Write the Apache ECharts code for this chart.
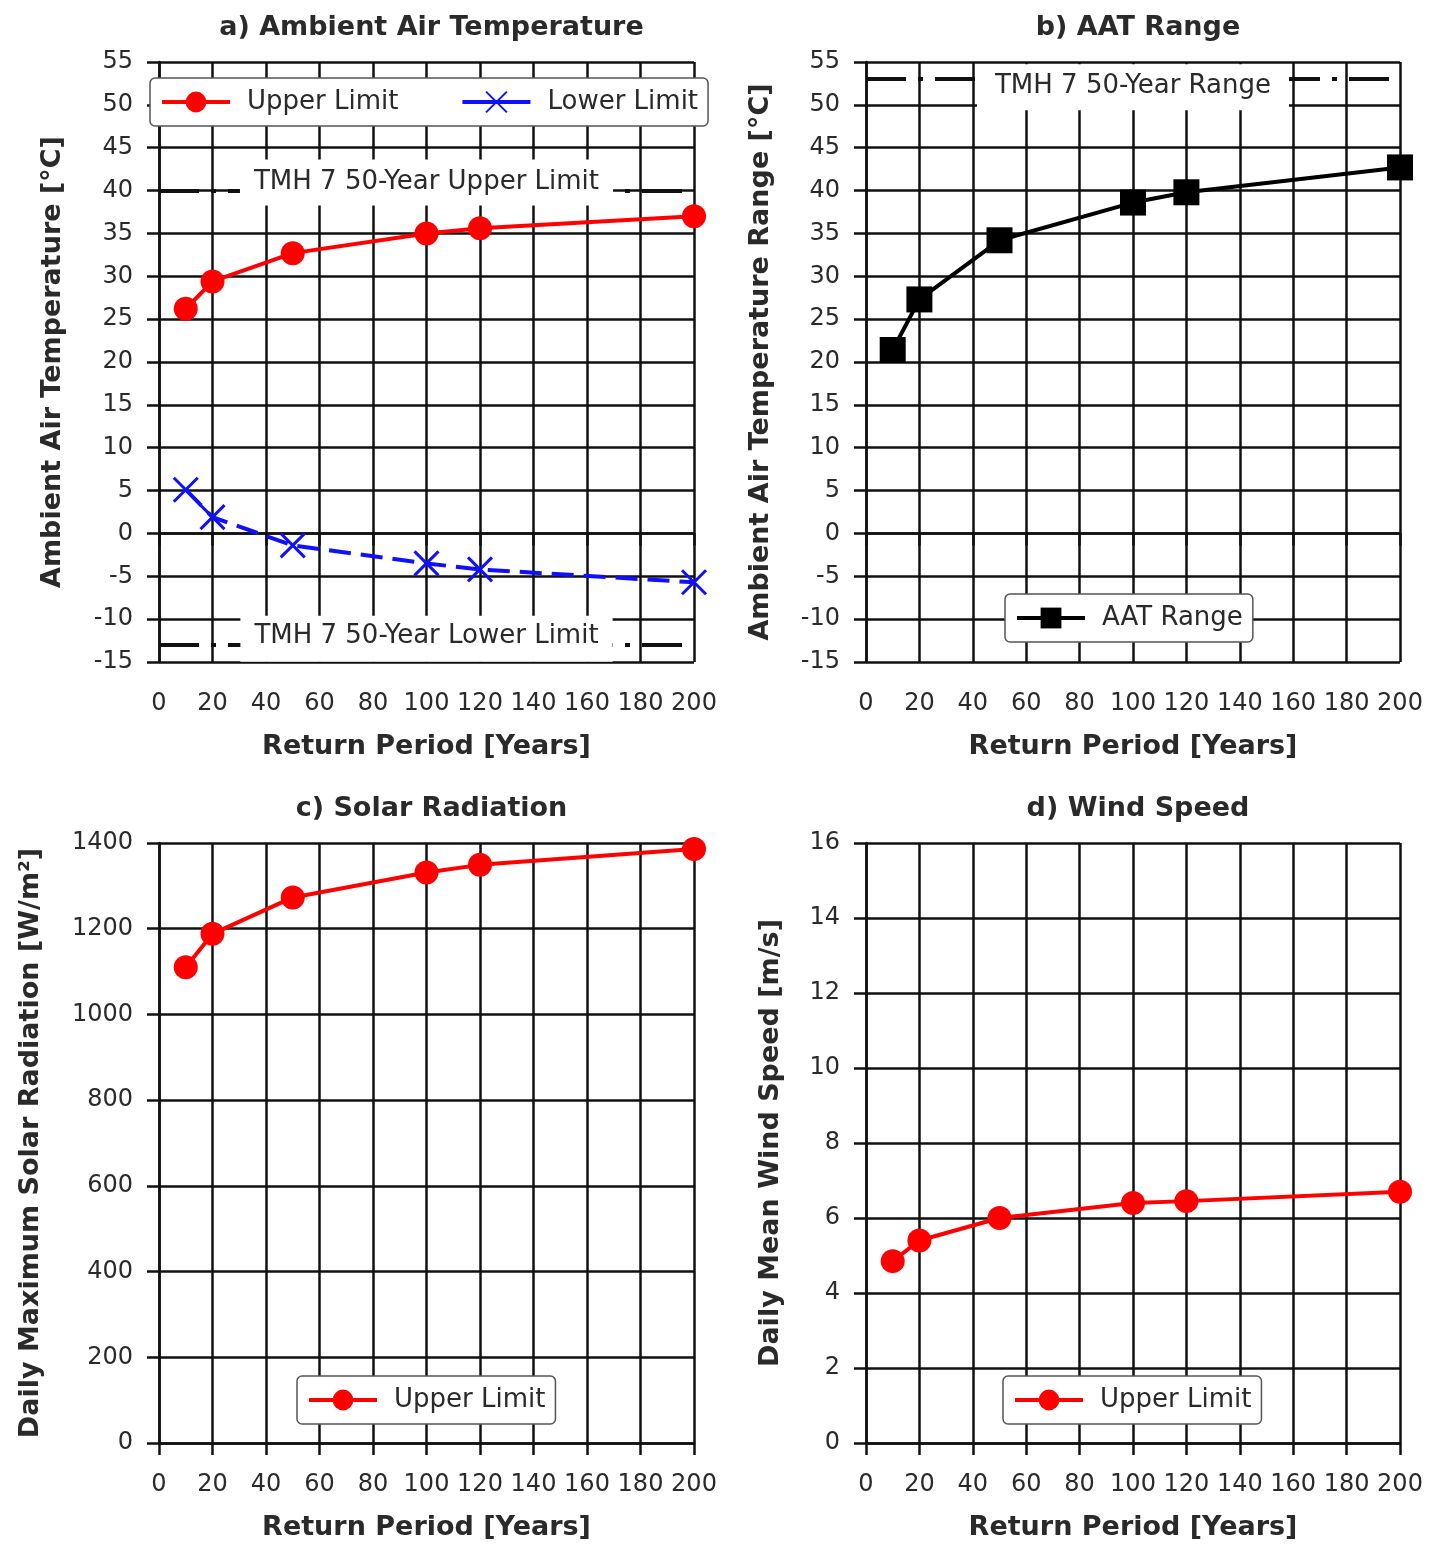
<!DOCTYPE html>
<html>
<head>
<meta charset="utf-8">
<script src="https://cdn.jsdelivr.net/npm/echarts@6/dist/echarts.min.js"></script>
<style>
  html, body { margin: 0; padding: 0; background: #fff; }
  #chart { width: 1442px; height: 1549px; }
</style>
</head>
<body>
<div id="chart"></div>
<script>
// return periods (years)
const returnPeriods = [10, 20, 50, 100, 120, 200]

// a) ambient air temperature [°C]
const aatUpper = [26.2, 29.4, 32.7, 35.0, 35.6, 37.0]
const aatLower = [5.1, 1.9, -1.4, -3.5, -4.2, -5.7]
const tmhUpper = 40
const tmhLower = -13

// b) AAT range [°C]
const aatRange = [21.4, 27.3, 34.2, 38.6, 39.8, 42.7]
const tmhRange = 53

// c) solar radiation [W/m2]
const solarUpper = [1110, 1188, 1273, 1331, 1349, 1386]

// d) wind speed [m/s]
const windUpper = [4.85, 5.4, 6.0, 6.4, 6.45, 6.7]

const titles = ["a) Ambient Air Temperature", "b) AAT Range", "c) Solar Radiation", "d) Wind Speed"]
const yNames = [
	"Ambient Air Temperature [°C]",
	"Ambient Air Temperature Range [°C]",
	"Daily Maximum Solar Radiation [W/m²]",
	"Daily Mean Wind Speed [m/s]",
]

const FONT = "DejaVu Sans, Verdana, sans-serif"
const RED = "#ff0000"
const BLUE = "#1010ff"
const INK = "#111"
const TEXT = "#2a2a2a"
const crossPath = "path://M0,0L20,20M20,0L0,20"
const dashDot = [40, 12, 5, 12]

const grids = [
	{ left: 159, top: 62, width: 535, height: 600 },
	{ left: 866, top: 62, width: 534, height: 600 },
	{ left: 159, top: 843, width: 535, height: 600 },
	{ left: 866, top: 843, width: 534, height: 600 },
]

const xAxis = grids.map((g, i) => ({
	type: "value",
	gridIndex: i,
	min: 0,
	max: 200,
	interval: 20,
	name: "Return Period [Years]",
	nameLocation: "middle",
	nameGap: 71,
	nameTextStyle: { fontFamily: FONT, fontSize: 27, fontWeight: "bold", color: TEXT },
	axisLine: { show: true, lineStyle: { color: INK, width: 2.5 } },
	axisTick: { show: true, length: 12, lineStyle: { color: INK, width: 2.5 } },
	axisLabel: { fontFamily: FONT, fontSize: 24, color: TEXT, margin: 30 },
	splitLine: { show: true, lineStyle: { color: INK, width: 2.5 } },
}))

const yRanges = [
	{ min: -15, max: 55, interval: 5, gap: 93 },
	{ min: -15, max: 55, interval: 5, gap: 92 },
	{ min: 0, max: 1400, interval: 200, gap: 115 },
	{ min: 0, max: 16, interval: 2, gap: 82 },
]

const yAxis = yRanges.map((r, i) => ({
	type: "value",
	gridIndex: i,
	min: r.min,
	max: r.max,
	interval: r.interval,
	name: yNames[i],
	nameLocation: "middle",
	nameGap: r.gap,
	nameTextStyle: { fontFamily: FONT, fontSize: 27, fontWeight: "bold", color: TEXT },
	axisLine: { show: true, lineStyle: { color: INK, width: 2.5 } },
	axisTick: { show: true, length: 12, lineStyle: { color: INK, width: 2.5 } },
	axisLabel: { fontFamily: FONT, fontSize: 24, color: TEXT, margin: 26, formatter: (v) => String(v) },
	splitLine: { show: true, lineStyle: { color: INK, width: 2.5 } },
}))

const title = titles.map((t, i) => ({
	text: t,
	left: grids[i].left + grids[i].width / 2,
	top: i < 2 ? 9 : 790,
	textAlign: "center",
	textStyle: { fontFamily: FONT, fontSize: 27, fontWeight: "bold", color: TEXT },
}))

const legendBase = {
	orient: "horizontal",
	backgroundColor: "#fff",
	borderColor: "#555",
	borderWidth: 1.5,
	borderRadius: 5,
	padding: [11, 10, 11, 10],
	itemWidth: 68,
	itemHeight: 26,
	itemGap: 62,
	lineStyle: { width: 4 },
	textStyle: { fontFamily: FONT, fontSize: 26, color: TEXT, padding: [0, 0, 0, 12] },
}

const legend = [
	Object.assign({}, legendBase, {
		left: 150,
		top: 78,
		data: ["Upper Limit", { name: "Lower Limit", lineStyle: { type: "solid", width: 4 } }],
	}),
	Object.assign({}, legendBase, { left: 1005, top: 594, data: ["AAT Range"] }),
	Object.assign({}, legendBase, { left: 297, top: 1376, data: ["Upper Limit"] }),
	Object.assign({}, legendBase, { left: 1003, top: 1376, data: ["Upper Limit"] }),
]

const pairs = (ys) => returnPeriods.map((x, i) => [x, ys[i]])

const tmhLine = (value, text, pad, offset) => ({
	silent: true,
	symbol: "none",
	animation: false,
	lineStyle: { color: INK, type: dashDot, width: 4 },
	label: {
		show: true,
		position: "middle",
		formatter: text,
		fontFamily: FONT,
		fontSize: 26,
		color: TEXT,
		backgroundColor: "#fff",
		padding: pad,
		offset: offset,
	},
	data: [{ yAxis: value }],
})

const redSeries = (name, idx, data, extra) =>
	Object.assign(
		{
			name: name,
			type: "line",
			xAxisIndex: idx,
			yAxisIndex: idx,
			data: pairs(data),
			symbol: "circle",
			symbolSize: 24,
			lineStyle: { color: RED, width: 4 },
			itemStyle: { color: RED },
			z: 5,
		},
		extra || {}
	)

const series = [
	redSeries("Upper Limit", 0, aatUpper, {
		markLine: tmhLine(tmhUpper, "TMH 7 50-Year Upper Limit", [10, 14, 10, 14], [0, 20]),
	}),
	{
		name: "Lower Limit",
		type: "line",
		xAxisIndex: 0,
		yAxisIndex: 0,
		data: pairs(aatLower),
		symbol: crossPath,
		symbolSize: 24,
		symbolKeepAspect: true,
		lineStyle: { color: BLUE, width: 4, type: [22, 10] },
		itemStyle: { color: "none", borderColor: BLUE, borderWidth: 3 },
		z: 5,
		markLine: tmhLine(tmhLower, "TMH 7 50-Year Lower Limit", [7, 14, 13, 14], [0, 22]),
	},
	{
		name: "AAT Range",
		type: "line",
		xAxisIndex: 1,
		yAxisIndex: 1,
		data: pairs(aatRange),
		symbol: "rect",
		symbolSize: 26,
		lineStyle: { color: "#000", width: 4 },
		itemStyle: { color: "#000" },
		z: 5,
		markLine: tmhLine(tmhRange, "TMH 7 50-Year Range", [9, 18, 11, 18], [0, 36]),
	},
	redSeries("Upper Limit", 2, solarUpper),
	redSeries("Upper Limit", 3, windUpper),
]

const chart = echarts.init(document.getElementById("chart"))
chart.setOption({
	animation: false,
	backgroundColor: "#fff",
	title: title,
	legend: legend,
	grid: grids,
	xAxis: xAxis,
	yAxis: yAxis,
	series: series,
})
</script>
</body>
</html>
